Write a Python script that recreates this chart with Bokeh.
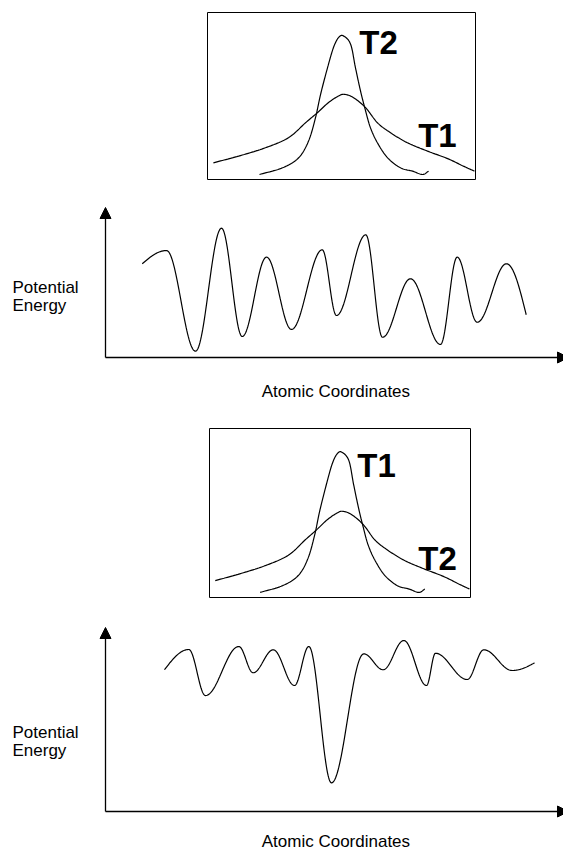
import numpy as np
from bokeh.plotting import figure
from bokeh.models import Range1d, Label, Arrow, NormalHead
from bokeh.layouts import column
from bokeh.embed import file_html
from bokeh.resources import INLINE

# ---------------- data ----------------
# Inset distributions (x: coordinate 0..10, y: probability 0..1)
wide_x = [0.22, 1.16, 2.16, 3.02, 3.66, 4.10, 4.51, 4.89, 5.11, 5.45, 5.90, 6.34, 6.83, 7.46, 8.21, 8.96, 9.55, 9.96]
wide_y = [0.10, 0.14, 0.19, 0.25, 0.34, 0.40, 0.46, 0.50, 0.51, 0.49, 0.43, 0.34, 0.28, 0.22, 0.17, 0.125, 0.08, 0.05]
narrow_x = [1.94, 2.80, 3.40, 3.77, 4.03, 4.22, 4.48, 4.70, 4.89, 5.07, 5.34, 5.52, 5.71, 5.90, 6.08, 6.34, 6.72, 7.20, 7.65, 8.02, 8.25]
narrow_y = [0.03, 0.07, 0.13, 0.23, 0.37, 0.51, 0.67, 0.79, 0.85, 0.86, 0.81, 0.67, 0.53, 0.41, 0.31, 0.22, 0.13, 0.07, 0.05, 0.03, 0.05]

# Labels of the peaked / broad distribution in each inset
inset1_labels = ["T2", "T1"]
inset2_labels = ["T1", "T2"]

# Potential energy surfaces: turning points (x: atomic coordinate 0..100, y: energy)
pes1_x = [8.16, 13.56, 20.0, 25.78, 30.38, 35.78, 41.33, 48.16, 51.33, 57.84, 61.56, 67.78, 74.44, 78.16, 82.6, 89.1, 93.49]
pes1_y = [62.5, 71.3, 4.2, 86.2, 14.0, 66.9, 18.7, 71.8, 28.0, 81.8, 13.5, 52.5, 8.7, 66.9, 23.5, 62.5, 28.5]
pes2_x = [13.11, 18.51, 22.22, 29.62, 32.82, 37.27, 42.0, 45.18, 50.22, 57.4, 61.71, 66.29, 71.33, 73.33, 80.38, 84.07, 90.38, 95.33]
pes2_y = [94.5, 108.0, 77.3, 110.0, 92.5, 107.8, 84.0, 110.0, 19.1, 105.1, 94.5, 114.0, 84.0, 105.5, 88.0, 107.8, 94.0, 99.1]

axis_label_x = "Atomic Coordinates"
axis_label_y = ["Potential", "Energy"]

# ---------------- helpers (drawing smooth curves through the read points) ----------------
def smooth_turning_points(xs, ys, n=40):
    ox, oy = [], []
    m = len(xs)
    for i in range(m - 1):
        t = np.linspace(0, 1, n, endpoint=(i == m - 2))
        if i == 0:
            e = np.sin(np.pi / 2 * t)
        elif i == m - 2:
            e = 1 - np.cos(np.pi / 2 * t)
        else:
            e = (1 - np.cos(np.pi * t)) / 2
        ox.extend(xs[i] + (xs[i + 1] - xs[i]) * t)
        oy.extend(ys[i] + (ys[i + 1] - ys[i]) * e)
    return ox, oy


def catmull_rom(xs, ys, n=14):
    P = np.column_stack([xs, ys]).astype(float)
    P = np.vstack([2 * P[0] - P[1], P, 2 * P[-1] - P[-2]])
    out = []
    for i in range(1, len(P) - 2):
        p0, p1, p2, p3 = P[i - 1], P[i], P[i + 1], P[i + 2]
        t = np.linspace(0, 1, n, endpoint=(i == len(P) - 3))[:, None]
        pt = 0.5 * ((2 * p1) + (-p0 + p2) * t + (2 * p0 - 5 * p1 + 4 * p2 - p3) * t ** 2
                    + (-p0 + 3 * p1 - 3 * p2 + p3) * t ** 3)
        out.append(pt)
    out = np.vstack(out)
    return out[:, 0], out[:, 1]


W = 563
LINE_W = 1.2
TXT_FONT = "Liberation Sans"
T_FONT = "Liberation Sans"


def base_fig(height, xr, yr):
    p = figure(width=W, height=height, x_range=Range1d(*xr), y_range=Range1d(*yr),
               x_axis_type=None, y_axis_type=None, toolbar_location=None,
               output_backend="svg", title=None,
               min_border_left=0, min_border_right=0, min_border_top=0, min_border_bottom=0)
    p.outline_line_color = None
    p.background_fill_color = "white"
    p.border_fill_color = "white"
    return p


def make_inset(height, box_left, box_right, box_top, box_bottom, labels, pos_hi, pos_lo):
    # box position in the picture -> data 0..10 (x) and 0..1 (y)
    sx = (box_right - box_left) / 10.0
    sy = (box_bottom - box_top) / 1.0
    xr = (-box_left / sx, (W - box_left) / sx)
    yr = (-(height - box_bottom) / sy, 1 + box_top / sy)
    p = base_fig(height, xr, yr)
    p.quad(left=[0], right=[10], bottom=[0], top=[1], fill_color=None,
           line_color="black", line_width=1)
    wx, wy = catmull_rom(wide_x, wide_y)
    nx, ny = catmull_rom(narrow_x, narrow_y)
    p.line(wx, wy, line_color="black", line_width=LINE_W)
    p.line(nx, ny, line_color="black", line_width=LINE_W)
    for txt, (lx, ly) in zip(labels, [pos_hi, pos_lo]):
        p.add_layout(Label(x=lx, y=ly, text=txt, text_font=T_FONT, text_font_style="bold",
                           text_font_size="33px", text_align="center", text_baseline="middle",
                           text_color="black"))
    return p


def make_main(height, base_local, tip_y, xs, ys, pot_base, en_base, atom_base):
    # x = (px - 105)/4.5 ; y = (axis_py - py)/1.5
    xr = (-105 / 4.5, (W - 105) / 4.5)
    yr = (-(height - base_local) / 1.5, base_local / 1.5)
    p = base_fig(height, xr, yr)
    cx, cy = smooth_turning_points(xs, ys)
    p.line(cx, cy, line_color="black", line_width=LINE_W)
    p.add_layout(Arrow(end=NormalHead(size=11, fill_color="black", line_color="black"),
                       x_start=0, y_start=0, x_end=0, y_end=tip_y,
                       line_color="black", line_width=1.3))
    p.add_layout(Arrow(end=NormalHead(size=11, fill_color="black", line_color="black"),
                       x_start=0, y_start=0, x_end=(568 - 105) / 4.5, y_end=0,
                       line_color="black", line_width=1.3))
    p.add_layout(Label(x=-20.67, y=pot_base, text=axis_label_y[0], text_font=TXT_FONT,
                       text_font_size="17px", text_align="left", text_baseline="alphabetic",
                       text_color="black"))
    p.add_layout(Label(x=-20.67, y=en_base, text=axis_label_y[1], text_font=TXT_FONT,
                       text_font_size="17px", text_align="left", text_baseline="alphabetic",
                       text_color="black"))
    p.add_layout(Label(x=51.2, y=atom_base, text=axis_label_x, text_font=TXT_FONT,
                       text_font_size="17px", text_align="center", text_baseline="alphabetic",
                       text_color="black"))
    return p


# Top inset: picture y 0..195 ; box (207,12)-(475,179)
pA = make_inset(195, 207, 475, 12, 179, inset1_labels, (6.38, 0.82), (8.58, 0.262))
# Top main: picture y 195..400 ; axis at y 357 -> local 162
pB = make_main(205, 162, 100, pes1_x, pes1_y, (357 - 287.3) / 1.5, (357 - 305) / 1.5, (357 - 390.7) / 1.5)
# Bottom inset: picture y 400..610 ; box (209,428)-(470,597) -> local y 28..197
pC = make_inset(210, 209, 470, 28, 197, inset2_labels, (6.40, 0.78), (8.74, 0.228))
# Bottom main: picture y 610..851 ; axis at y 811 -> local 201
pD = make_main(241, 201, (811 - 627) / 1.5, pes2_x, pes2_y, (811 - 731.7) / 1.5, (811 - 750) / 1.5, (811 - 841) / 1.5)

layout = column(pA, pB, pC, pD, spacing=0)
open("out.html", "w").write(file_html(layout, INLINE))
